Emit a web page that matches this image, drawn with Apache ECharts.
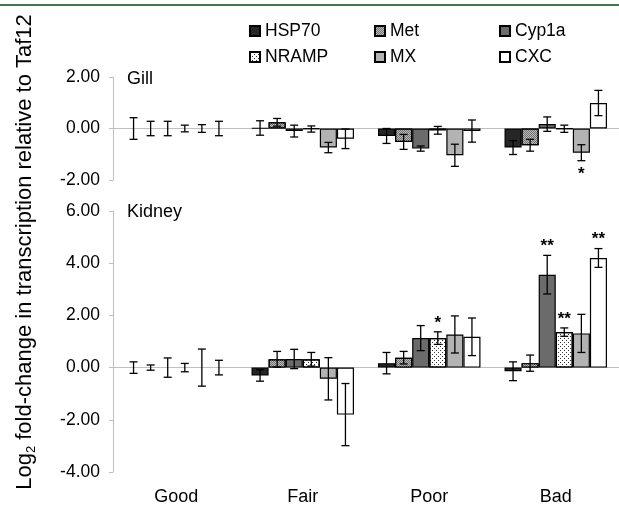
<!DOCTYPE html>
<html>
<head>
<meta charset="utf-8">
<script src="https://cdn.jsdelivr.net/npm/echarts@6.0.0/dist/echarts.min.js"></script>
<style>
  html, body { margin: 0; padding: 0; background: #fff; }
  #chart { width: 619px; height: 506px; }
</style>
</head>
<body>
<div id="chart"></div>
<script>
// categories and genes
var categories = ['Good', 'Fair', 'Poor', 'Bad']
var genes = ['HSP70', 'Met', 'Cyp1a', 'NRAMP', 'MX', 'CXC']

// gill: mean log2 fold-change, one row per gene (Good, Fair, Poor, Bad)
var gillMean = [
  [0, 0.02, -0.29, -0.74],
  [0, 0.24, -0.52, -0.65],
  [0, -0.10, -0.78, 0.17],
  [0, -0.02, -0.07, -0.01],
  [0, -0.74, -1.04, -0.94],
  [0, -0.40, -0.10, 0.99]
]
var gillErr = [
  [0.42, 0.28, 0.29, 0.27],
  [0.28, 0.15, 0.29, 0.23],
  [0.28, 0.23, 0.10, 0.28],
  [0.13, 0.12, 0.15, 0.14],
  [0.15, 0.20, 0.43, 0.31],
  [0.28, 0.38, 0.43, 0.49]
]

// kidney
var kidneyMean = [
  [0, -0.30, 0.17, -0.14],
  [0, 0.32, 0.38, 0.17],
  [0, 0.33, 1.13, 3.56],
  [0, 0.32, 1.13, 1.36],
  [0, -0.43, 1.27, 1.31],
  [0, -1.80, 1.18, 4.20]
]
var kidneyErr = [
  [0.22, 0.22, 0.41, 0.36],
  [0.10, 0.30, 0.24, 0.31],
  [0.37, 0.37, 0.48, 0.74],
  [0.16, 0.26, 0.24, 0.16],
  [0.71, 0.81, 0.71, 0.73],
  [0.28, 1.19, 0.72, 0.36]
]

// significance marks: [gene index, category index, mark]
var gillStars = [[4, 3, '*']]
var kidneyStars = [[3, 2, '*'], [2, 3, '**'], [3, 3, '**'], [5, 3, '**']]

var gillTicks = [-2, 0, 2]
var kidneyTicks = [-4, -2, 0, 2, 4, 6]

var font = 'Liberation Sans, Arial, sans-serif'
var catGap = 0.19

var geneStyles = [
  { color: '#262626' },
  { color: '#6e6e6e', decal: { symbol: 'rect', symbolSize: 1, color: '#bdbdbd', dashArrayX: [[1, 1], [0, 1, 1, 0]], dashArrayY: [1, 0] } },
  { color: '#6b6b6b' },
  { color: '#ffffff', decal: { symbol: 'rect', symbolSize: 1, color: '#333', dashArrayX: [[1, 3], [0, 2, 1, 1]], dashArrayY: [1, 1] } },
  { color: '#b3b3b3' },
  { color: '#ffffff' }
]

function errSeries(means, errs, stars, idx) {
  var rows = []
  for (var g = 0; g < genes.length; g++) {
    for (var c = 0; c < categories.length; c++) {
      rows.push([c, g, means[g][c], errs[g][c]])
    }
  }
  return {
    type: 'custom',
    xAxisIndex: idx,
    yAxisIndex: idx,
    encode: { x: 0, y: 2 },
    silent: true,
    z: 5,
    data: rows,
    renderItem: function (params, api) {
      var c = api.value(0), g = api.value(1), v = api.value(2), e = api.value(3)
      var base = api.coord([c, v])
      var bw = api.size([1, 0])[0] * (1 - catGap) / genes.length
      var x = base[0] + (g - 2.5) * bw
      var top = api.coord([c, v + e])[1]
      var bot = api.coord([c, v - e])[1]
      var st = { stroke: '#000', lineWidth: 1.3 }
      var kids = [
        { type: 'line', shape: { x1: x, y1: top, x2: x, y2: bot }, style: st },
        { type: 'line', shape: { x1: x - 4, y1: top, x2: x + 4, y2: top }, style: st },
        { type: 'line', shape: { x1: x - 4, y1: bot, x2: x + 4, y2: bot }, style: st }
      ]
      stars.forEach(function (s) {
        if (s[0] === g && s[1] === c) {
          kids.push({
            type: 'text',
            style: {
              x: x, y: v < 0 ? bot + 14 : top - 9,
              text: s[2], fill: '#000', align: 'center', verticalAlign: 'middle',
              font: 'bold 17px ' + font
            }
          })
        }
      })
      return { type: 'group', children: kids }
    }
  }
}

var series = []
;[[gillMean, 0], [kidneyMean, 1]].forEach(function (p) {
  genes.forEach(function (name, g) {
    series.push({
      name: name,
      type: 'bar',
      xAxisIndex: p[1],
      yAxisIndex: p[1],
      barGap: '0%',
      barCategoryGap: (catGap * 100) + '%',
      itemStyle: Object.assign({ borderColor: '#000', borderWidth: 1.2 }, geneStyles[g]),
      data: p[0][g].map(function (v) { return v === 0 ? '-' : v })
    })
  })
})
series.push(errSeries(gillMean, gillErr, gillStars, 0))
series.push(errSeries(kidneyMean, kidneyErr, kidneyStars, 1))

function valueAxis(grid, ticks) {
  return {
    type: 'value',
    gridIndex: grid,
    min: ticks[0],
    max: ticks[ticks.length - 1],
    interval: 2,
    splitLine: { show: false },
    axisLine: { show: true, lineStyle: { color: '#bfbfbf', width: 1 } },
    axisTick: { show: true, length: 4, lineStyle: { color: '#bfbfbf' } },
    axisLabel: { margin: 13, fontSize: 17.5, color: '#000', fontFamily: font,
      formatter: function (v) { return v.toFixed(2) } }
  }
}

function zeroAxis(grid) {
  return {
    type: 'category',
    gridIndex: grid,
    position: 'bottom',
    data: categories,
    axisLine: { onZero: true, lineStyle: { color: '#bfbfbf', width: 1 } },
    axisTick: { length: 5, lineStyle: { color: '#bfbfbf' } },
    axisLabel: { show: false }
  }
}

var legendCols = [['HSP70', 'NRAMP'], ['Met', 'MX'], ['Cyp1a', 'CXC']]
var legendLeft = [249, 374, 499]

var option = {
  animation: false,
  textStyle: { fontFamily: font },
  grid: [
    { left: 113, right: -4, top: 77, height: 103 },
    { left: 113, right: -4, top: 211, height: 261 }
  ],
  xAxis: [
    zeroAxis(0),
    zeroAxis(1),
    {
      type: 'category',
      gridIndex: 1,
      position: 'bottom',
      data: categories,
      axisLine: { show: false, onZero: false },
      axisTick: { show: false },
      axisLabel: { margin: 16, fontSize: 18, color: '#000', fontFamily: font }
    }
  ],
  yAxis: [valueAxis(0, gillTicks), valueAxis(1, kidneyTicks)],
  legend: legendCols.map(function (col, i) {
    return {
      data: col,
      orient: 'vertical',
      left: legendLeft[i],
      top: 22,
      padding: 0,
      itemGap: 8,
      itemWidth: 10,
      itemHeight: 10,
      icon: 'rect',
      selectedMode: false,
      textStyle: { fontSize: 17.5, color: '#000', fontFamily: font }
    }
  }),
  title: [
    { text: 'Gill', left: 127, top: 70, padding: 0, textStyle: { fontSize: 18, fontWeight: 'normal', color: '#000', fontFamily: font } },
    { text: 'Kidney', left: 127, top: 203, padding: 0, textStyle: { fontSize: 18, fontWeight: 'normal', color: '#000', fontFamily: font } }
  ],
  graphic: [
    { type: 'rect', left: 0, top: 4, shape: { width: 619, height: 2 }, style: { fill: '#3c7a4e' } },
    {
      type: 'text',
      x: 25,
      y: 252,
      rotation: Math.PI / 2,
      style: {
        text: 'Log{s|2} fold-change in transcription relative to Taf12',
        align: 'center',
        verticalAlign: 'middle',
        font: '22px ' + font,
        fill: '#000',
        rich: { s: { fontSize: 13, padding: [12, 0, 0, 0], fontFamily: font } }
      }
    }
  ],
  series: series
}

var myChart = echarts.init(document.getElementById('chart'))
myChart.setOption(option)
</script>
</body>
</html>
